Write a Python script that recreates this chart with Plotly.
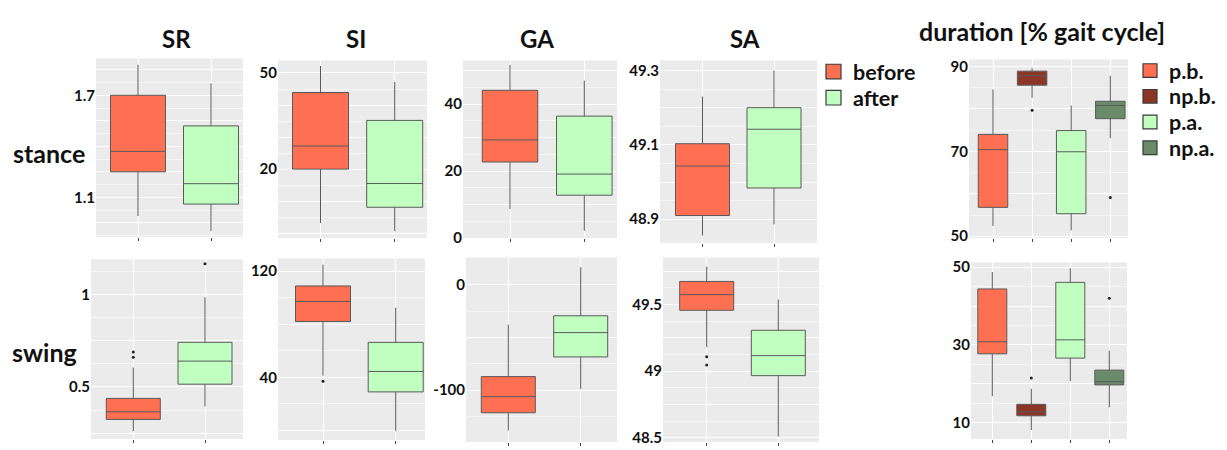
import plotly.graph_objects as go

W, H = 1227, 450

# ---------------- data ----------------
groups2 = ["before", "after"]
groups4 = ["p.b.", "np.b.", "p.a.", "np.a."]

# five-number summaries per group: [lower whisker, Q1, median, Q3, upper whisker]
sr_stance = [[0.99, 1.25, 1.37, 1.70, 1.88], [0.90, 1.06, 1.18, 1.52, 1.77]]
si_stance = [[3.2, 20.0, 27.2, 43.9, 52.2], [0.6, 8.1, 15.5, 35.2, 47.2]]
ga_stance = [[8.7, 22.7, 29.3, 44.1, 51.7], [2.2, 12.8, 19.1, 36.4, 47.0]]
sa_stance = [[48.856, 48.910, 49.043, 49.103, 49.230], [48.886, 48.984, 49.142, 49.200, 49.300]]
dur_stance = [[52.4, 56.8, 70.4, 74.0, 84.6], [82.6, 85.6, 87.8, 88.9, 89.6],
              [51.4, 55.3, 69.9, 74.9, 80.8], [73.1, 77.7, 80.8, 81.8, 87.8]]

sr_swing = [[0.261, 0.324, 0.365, 0.438, 0.605], [0.395, 0.515, 0.640, 0.742, 0.986]]
si_swing = [[41.2, 82.0, 97.1, 108.8, 124.9], [-0.5, 29.0, 44.4, 66.3, 92.4]]
ga_swing = [[-138.3, -121.5, -106.2, -87.1, -37.6], [-99.0, -68.4, -45.3, -29.3, 16.9]]
sa_swing = [[49.18, 49.456, 49.573, 49.672, 49.784], [48.51, 48.966, 49.116, 49.306, 49.536]]
dur_swing = [[16.8, 27.7, 30.8, 44.4, 48.75], [8.1, 11.75, 12.75, 14.7, 18.7],
             [20.7, 26.6, 31.3, 46.1, 49.75], [13.9, 19.7, 20.5, 23.5, 28.5]]

# outlying observations per group
sr_swing_out = [[0.661, 0.689], [1.167]]
si_swing_out = [[37.1], []]
sa_swing_out = [[49.107, 49.046], []]
dur_stance_out = [[], [79.7], [], [59.1]]
dur_swing_out = [[], [21.5], [], [42.0]]

# y tick labels (values that carry a label)
sr_stance_labels = [1.1, 1.7]
si_stance_labels = [20, 50]
ga_stance_labels = [0, 20, 40]
sa_stance_labels = [48.9, 49.1, 49.3]
dur_stance_labels = [50, 70, 90]
sr_swing_labels = [0.5, 1]
si_swing_labels = [40, 120]
ga_swing_labels = [-100, 0]
sa_swing_labels = [48.5, 49, 49.5]
dur_swing_labels = [10, 30, 50]

# ---------------- styling ----------------
fill2 = ["#FF6F51", "#C1FFC1"]
fill4 = ["#FF6F51", "#8B3626", "#C1FFC1", "#698B69"]
FONT = "Lato"

# panel geometry in pixels: plot area (x0, x1, y0, y1), a reference value with
# its pixel row and pixels per unit, first category centre and spacing, box width
panels = [
    dict(data=sr_stance, out=None, cats=groups2, fill=fill2, labels=sr_stance_labels,
         grid=[0.8, 0.95, 1.1, 1.25, 1.4, 1.55, 1.7, 1.85], fmt="{:.1f}",
         box=(96, 243, 55, 239), ref=(1.7, 93, 175), cx=(138, 73), bw=55),
    dict(data=si_stance, out=None, cats=groups2, fill=fill2, labels=si_stance_labels,
         grid=[0, 10, 20, 30, 40, 50], fmt="{:g}",
         box=(278, 427, 57, 240), ref=(50, 70, 3.3), cx=(320.5, 74.2), bw=56),
    dict(data=ga_stance, out=None, cats=groups2, fill=fill2, labels=ga_stance_labels,
         grid=[0, 10, 20, 30, 40, 50], fmt="{:g}",
         box=(463, 617, 57, 240), ref=(40, 102, 3.45), cx=(510, 74.3), bw=55.5),
    dict(data=sa_stance, out=None, cats=groups2, fill=fill2, labels=sa_stance_labels,
         grid=[48.9, 49.0, 49.1, 49.2, 49.3], fmt="{:.1f}",
         box=(660, 817, 57, 245), ref=(49.1, 144, 383), cx=(702.5, 71.5), bw=54),
    dict(data=dur_stance, out=dur_stance_out, cats=groups4, fill=fill4, labels=dur_stance_labels,
         grid=[50, 60, 70, 80, 90], fmt="{:g}",
         box=(969, 1128, 56, 240), ref=(70, 150.7, 4.37), cx=(993, 39.1), bw=29.5),
    dict(data=sr_swing, out=sr_swing_out, cats=groups2, fill=fill2, labels=sr_swing_labels,
         grid=[0.25, 0.5, 0.75, 1.0, 1.25], fmt="{:g}",
         box=(91, 243, 262, 447), ref=(1.0, 298.3, 190), cx=(133.3, 71.7), bw=54),
    dict(data=si_swing, out=si_swing_out, cats=groups2, fill=fill2, labels=si_swing_labels,
         grid=[0, 40, 80, 120], fmt="{:g}",
         box=(278, 425, 261, 448), ref=(120, 274, 1.367), cx=(323, 72.7), bw=55),
    dict(data=ga_swing, out=None, cats=groups2, fill=fill2, labels=ga_swing_labels,
         grid=[-150, -100, -50, 0], fmt="{:g}",
         box=(466, 617, 260, 450), ref=(0, 288.3, 1.083), cx=(508.3, 72.4), bw=54),
    dict(data=sa_swing, out=sa_swing_out, cats=groups2, fill=fill2, labels=sa_swing_labels,
         grid=[48.5, 48.75, 49.0, 49.25, 49.5, 49.75], fmt="{:g}",
         box=(663, 819, 260, 450), ref=(49.5, 308.3, 137.4), cx=(706.7, 71.6), bw=54),
    dict(data=dur_swing, out=dur_swing_out, cats=groups4, fill=fill4, labels=dur_swing_labels,
         grid=[10, 20, 30, 40, 50], fmt="{:g}",
         box=(971, 1127, 265, 447), ref=(50, 270, 4.0), cx=(992.3, 39.0), bw=29),
]

fig = go.Figure()
layout = {}

for i, p in enumerate(panels):
    n = "" if i == 0 else str(i + 1)
    xa, ya = "x" + n, "y" + n
    x0, x1, y0, y1 = p["box"]
    rv, rpx, ppu = p["ref"]
    c0, sp = p["cx"]

    for j, cat in enumerate(p["cats"]):
        lo, q1, med, q3, hi = p["data"][j]
        fig.add_trace(go.Box(
            x=[cat], q1=[q1], median=[med], q3=[q3], lowerfence=[lo], upperfence=[hi],
            fillcolor=p["fill"][j], line=dict(color="#5a5a5a", width=1),
            whiskerwidth=0, width=p["bw"] / sp, boxpoints=False,
            xaxis=xa, yaxis=ya, showlegend=False, hoverinfo="skip"))
        if p["out"] and p["out"][j]:
            fig.add_trace(go.Scatter(
                x=[cat] * len(p["out"][j]), y=p["out"][j], mode="markers",
                marker=dict(color="#222222", size=3), xaxis=xa, yaxis=ya,
                showlegend=False, hoverinfo="skip"))

    ymin = rv - (y1 - rpx) / ppu
    ymax = rv + (rpx - y0) / ppu
    lab = set(round(v, 4) for v in p["labels"])
    tickvals = sorted(set(p["grid"]) | set(p["labels"]))
    ticktext = [p["fmt"].format(v) if round(v, 4) in lab else "" for v in tickvals]
    minor = [(a + b) / 2 for a, b in zip(tickvals[:-1], tickvals[1:])]

    layout["xaxis" + n] = dict(
        domain=[x0 / W, x1 / W], anchor=ya, type="category",
        categoryorder="array", categoryarray=p["cats"],
        range=[(x0 - c0) / sp, (x1 - c0) / sp],
        showgrid=True, gridcolor="white", gridwidth=1,
        ticks="outside", ticklen=3, tickcolor="#444", showticklabels=False,
        showline=False, zeroline=False, fixedrange=True)
    layout["yaxis" + n] = dict(
        domain=[1 - y1 / H, 1 - y0 / H], anchor=xa, range=[ymin, ymax],
        tickmode="array", tickvals=tickvals, ticktext=ticktext,
        showgrid=True, gridcolor="white", gridwidth=1,
        minor=dict(tickvals=minor, showgrid=True, gridcolor="#F6F6F6", gridwidth=0.6),
        ticks="", zeroline=False, showline=False, fixedrange=True,
        tickfont=dict(family=FONT, size=15, color="#111111", weight="bold"))

fig.update_layout(**layout)


def px(x, y):
    return x / W, 1 - y / H


annotations = []


def text(s, x, y, size, anchor="center"):
    ax, ay = px(x, y)
    annotations.append(dict(
        text=s, x=ax, y=ay, xref="paper", yref="paper", showarrow=False,
        xanchor=anchor, yanchor="middle",
        font=dict(family=FONT, size=size, color="#111111", weight="bold")))


# column and row headings
for label, x in [("SR", 176), ("SI", 356), ("GA", 537), ("SA", 745)]:
    text(label, x, 35, 24)
text("duration [% gait cycle]", 1042, 27, 25)
text("stance", 49, 152, 25)
text("swing", 44, 357, 25)

# legends: coloured squares with labels
shapes = []


def swatch(x0, y0, size, color):
    a, b = px(x0, y0)
    c, d = px(x0 + size, y0 + size)
    shapes.append(dict(type="rect", xref="paper", yref="paper", x0=a, x1=c, y0=d, y1=b,
                       fillcolor=color, line=dict(color="#3a3a3a", width=1.2)))


for name, color, y in zip(groups2, fill2, [68.5, 95.5]):
    swatch(826, y - 7.5, 15, color)
    text(name, 851, y, 21.5, "left")

for name, color, y in zip(groups4, fill4, [67.5, 94, 120.5, 147]):
    swatch(1143, y - 7, 14, color)
    text(name, 1167, y, 21.5, "left")

fig.update_layout(
    width=W, height=H, autosize=False,
    margin=dict(l=0, r=0, t=0, b=0),
    paper_bgcolor="white", plot_bgcolor="#EBEBEB",
    boxmode="overlay", showlegend=False,
    annotations=annotations, shapes=shapes,
)

fig.write_html("out.html")
